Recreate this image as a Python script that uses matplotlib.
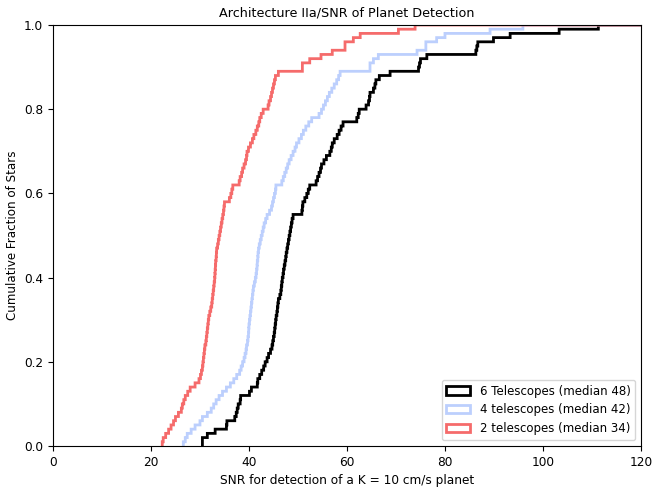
import numpy as np
import matplotlib
matplotlib.use("Agg")
import matplotlib.pyplot as plt

# SNR of each star (sorted)
snr_6tel = [30.5, 30.5, 31.5, 33.1, 35.4, 35.5, 37.1, 37.4, 37.6, 37.8,
            38.2, 38.3, 40.1, 40.5, 41.7, 41.8, 42.2, 42.6, 43.0, 43.3,
            43.7, 44.0, 44.4, 44.7, 44.85, 45.0, 45.15, 45.25, 45.35, 45.45,
            45.55, 45.7, 45.8, 45.9, 46.0, 46.3, 46.5, 46.6, 46.7, 46.8,
            46.95, 47.05, 47.2, 47.35, 47.5, 47.6, 47.75, 47.9, 48.05, 48.2,
            48.35, 48.5, 48.65, 48.8, 49.0, 50.8, 50.9, 51.0, 51.4, 51.8,
            52.1, 52.4, 53.7, 54.0, 54.3, 54.6, 54.8, 55.3, 55.8, 56.5,
            56.8, 57.0, 57.4, 58.0, 58.4, 58.8, 59.2, 62.0, 62.3, 62.5,
            63.9, 64.4, 64.6, 64.7, 65.4, 65.7, 65.9, 66.6, 68.8, 74.6,
            74.8, 75.0, 76.3, 86.3, 86.5, 86.7, 89.9, 93.3, 103.3, 111.3]

snr_4tel = [26.6, 27.0, 27.4, 28.2, 29.0, 30.0, 30.5, 31.5, 32.3, 32.8,
            33.3, 33.9, 34.6, 35.4, 36.2, 36.9, 37.5, 38.1, 38.4, 38.7,
            39.0, 39.2, 39.4, 39.5, 39.7, 39.8, 39.9, 39.95, 40.0, 40.1,
            40.2, 40.3, 40.4, 40.5, 40.6, 40.7, 40.8, 40.9, 41.1, 41.3,
            41.45, 41.55, 41.65, 41.7, 41.8, 41.85, 41.95, 42.1, 42.3, 42.5,
            42.7, 42.9, 43.1, 43.4, 43.7, 44.2, 44.6, 44.8, 45.0, 45.2,
            45.4, 45.5, 46.7, 47.0, 47.3, 47.6, 47.9, 48.2, 48.6, 49.0,
            49.4, 49.7, 50.2, 50.7, 51.1, 51.6, 52.2, 52.8, 54.3, 54.8,
            55.2, 55.6, 56.0, 56.4, 56.9, 57.4, 57.9, 58.3, 58.6, 64.7,
            64.7, 65.4, 66.4, 74.3, 76.1, 76.1, 78.3, 80.0, 89.2, 95.9]

snr_2tel = [22.3, 22.5, 23.0, 23.6, 24.1, 24.6, 25.0, 25.6, 26.2, 26.4,
            26.7, 27.0, 27.5, 28.0, 29.0, 29.8, 30.1, 30.3, 30.5, 30.6,
            30.7, 30.8, 30.9, 31.0, 31.2, 31.3, 31.4, 31.5, 31.6, 31.7,
            31.8, 32.0, 32.2, 32.4, 32.5, 32.6, 32.7, 32.8, 32.9, 33.0,
            33.05, 33.1, 33.15, 33.2, 33.3, 33.35, 33.4, 33.6, 33.75, 33.9,
            34.05, 34.2, 34.35, 34.5, 34.65, 34.8, 34.9, 35.0, 36.0, 36.3,
            36.5, 36.7, 38.0, 38.2, 38.5, 38.7, 39.0, 39.3, 39.5, 39.6,
            39.9, 40.3, 40.7, 41.0, 41.4, 41.7, 42.0, 42.2, 42.5, 42.9,
            43.9, 44.1, 44.4, 44.6, 44.8, 45.0, 45.2, 45.4, 46.0, 50.9,
            50.9, 52.4, 54.7, 57.0, 59.6, 59.6, 61.3, 62.7, 70.5, 73.9]

series = [
    (snr_6tel, "6 Telescopes (median 48)", "black"),
    (snr_4tel, "4 telescopes (median 42)", "#bccffd"),
    (snr_2tel, "2 telescopes (median 34)", "#f56b6b"),
]

fig = plt.figure(figsize=(6.66, 4.87), dpi=100)
ax = fig.add_axes([0.0796, 0.0842, 0.8829, 0.8645])

for data, label, color in series:
    d = np.asarray(data)
    bins = np.arange(d.min() - 0.01, 200.0, 0.05)
    ax.hist(d, bins=bins, cumulative=True, density=True, histtype="step",
            lw=2, color=color, label=label)

ax.set_xlim(0, 120)
ax.set_ylim(0, 1.0)
ax.set_xticks(np.arange(0, 121, 20))
ax.set_yticks(np.arange(0, 1.01, 0.2))
ax.tick_params(labelsize=8.7)
ax.set_title("Architecture IIa/SNR of Planet Detection", fontsize=9.2)
ax.set_xlabel("SNR for detection of a K = 10 cm/s planet", fontsize=8.7)
ax.set_ylabel("Cumulative Fraction of Stars", fontsize=8.6)
ax.legend(loc="lower right", fontsize=8.5)

fig.savefig("out.png", dpi=100)
